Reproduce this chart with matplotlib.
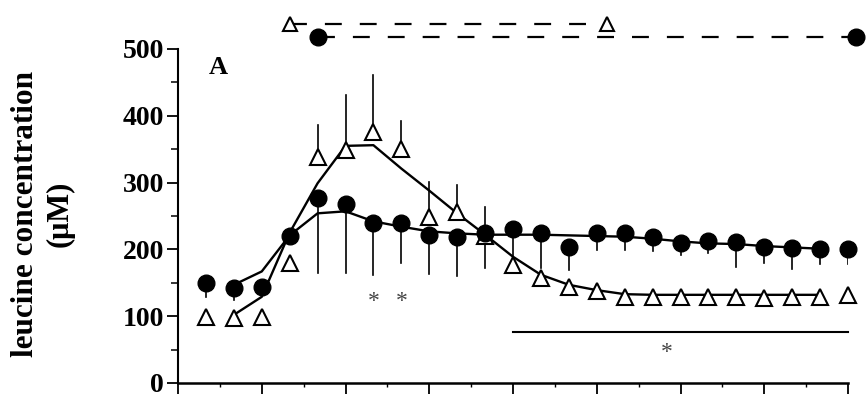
import matplotlib
matplotlib.use("Agg")
import matplotlib.pyplot as plt
import numpy as np
from matplotlib.ticker import MultipleLocator

# ---------------- data ----------------
time_idx = list(range(1, 25))
circle_vals = [149, 142, 143, 220, 277, 268, 239, 240, 222, 219, 224, 231,
               225, 204, 225, 224, 218, 209, 212, 211, 204, 202, 200, 200]
circle_err_down = [20, 18, 0, 0, 113, 103, 77, 61, 59, 59, 52, 59,
                   53, 35, 26, 25, 21, 17, 18, 38, 25, 32, 22, 22]
triangle_vals = [99, 97, 99, 179, 339, 349, 375, 351, 249, 256, 220, 177,
                 157, 144, 137, 129, 129, 129, 129, 129, 127, 129, 129, 132]
triangle_err_up = [0, 0, 0, 0, 47, 82, 86, 41, 52, 40, 44, 0,
                   0, 0, 0, 0, 0, 0, 0, 0, 0, 0, 0, 0]

fit_idx = list(range(2, 24))
circle_fit = [147, 167, 221, 254, 257, 242, 234, 227, 224, 222, 222, 222,
              221, 220, 219, 216, 212, 209, 208, 205, 203, 201]
triangle_fit = [102, 129, 225, 299, 355, 356, 321, 288, 254, 222, 189, 162,
                147, 139, 133, 132, 132, 132, 132, 132, 132, 132]

# infusion bars drawn above the panel
tri_bar_x = [4, 15.35]
tri_bar_y = [537, 537]
circ_bar_x = [5, 24.3]
circ_bar_y = [518, 518]

# significance marks
sig_line_x = [12, 24]
sig_line_y = [76, 76]
star_pair_x = [7, 8]
star_pair_y = [122, 122]
star_single_x = [17.5]
star_single_y = [45]

y_ticks = [0, 100, 200, 300, 400, 500]
x_ticks = [0, 3, 6, 9, 12, 15, 18, 21, 24]
panel_label = "A"
ylabel_1 = "leucine concentration"
ylabel_2 = "(μM)"

# ---------------- figure ----------------
plt.rcParams['font.family'] = ['Liberation Serif', 'DejaVu Serif']
fig = plt.figure(figsize=(8.66, 3.94), dpi=100)
ax = fig.add_axes([178/866, 11/394, (848-178)/866, (383-49)/394])

ax.set_xlim(0, 24)
ax.set_ylim(0, 500)

# fitted curves
ax.plot(fit_idx, circle_fit, color='black', lw=1.7, zorder=2)
ax.plot(fit_idx, triangle_fit, color='black', lw=1.7, zorder=2)

# error bars
for x, y, e in zip(time_idx, circle_vals, circle_err_down):
    if e > 0:
        ax.plot([x, x], [y, y - e], color='black', lw=1.2, zorder=1)
for x, y, e in zip(time_idx, triangle_vals, triangle_err_up):
    if e > 0:
        ax.plot([x, x], [y, y + e], color='black', lw=1.2, zorder=1)

# points
ax.plot(time_idx, triangle_vals, linestyle='none', marker='^', ms=11,
        mfc='white', mec='black', mew=1.5, zorder=3, clip_on=False)
ax.plot(time_idx, circle_vals, linestyle='none', marker='o', ms=12,
        mfc='black', mec='black', zorder=4, clip_on=False)

# infusion bars above the panel
ax.plot(tri_bar_x, tri_bar_y, color='black', lw=1.6, dashes=(7.6, 8.1),
        marker='^', ms=10, mfc='white', mec='black', mew=1.5, clip_on=False, zorder=3)
ax.plot(circ_bar_x, circ_bar_y, color='black', lw=1.6, dashes=(7.6, 8.1),
        marker='o', ms=12, mfc='black', mec='black', clip_on=False, zorder=3)

# significance
ax.plot(sig_line_x, sig_line_y, color='black', lw=1.5, clip_on=False)
for x, y in zip(star_pair_x, star_pair_y):
    ax.text(x, y, "*", ha='center', va='center', fontsize=17, color='#444444')
for x, y in zip(star_single_x, star_single_y):
    ax.text(x, y, "*", ha='center', va='center', fontsize=17, color='#444444')

ax.text(1.43, 472, panel_label, ha='center', va='center', fontsize=19,
        fontweight='bold')

# axes styling
for s in ['top', 'right']:
    ax.spines[s].set_visible(False)
ax.spines['left'].set_linewidth(1.5)
ax.spines['bottom'].set_linewidth(1.8)
ax.set_yticks(y_ticks)
ax.yaxis.set_minor_locator(MultipleLocator(50))
ax.set_xticks(x_ticks)
ax.xaxis.set_minor_locator(MultipleLocator(1.5))
ax.set_xticklabels([])
ax.tick_params(axis='y', which='major', length=8, width=1.3, pad=2,
               labelsize=20)
ax.tick_params(axis='y', which='minor', length=5, width=1.1)
ax.tick_params(axis='x', which='major', length=11, width=1.3, direction='out')
ax.tick_params(axis='x', which='minor', length=3, width=1.0, direction='out')
for lab in ax.get_yticklabels():
    lab.set_fontweight('bold')

fig.text(26/866, (394-214)/394, ylabel_1, rotation=90, ha='center', va='center',
         fontsize=22.5, fontweight='bold')
fig.text(60/866, (394-214)/394, ylabel_2, rotation=90, ha='center', va='center',
         fontsize=22, fontweight='bold')

fig.savefig("out.png", dpi=100)
